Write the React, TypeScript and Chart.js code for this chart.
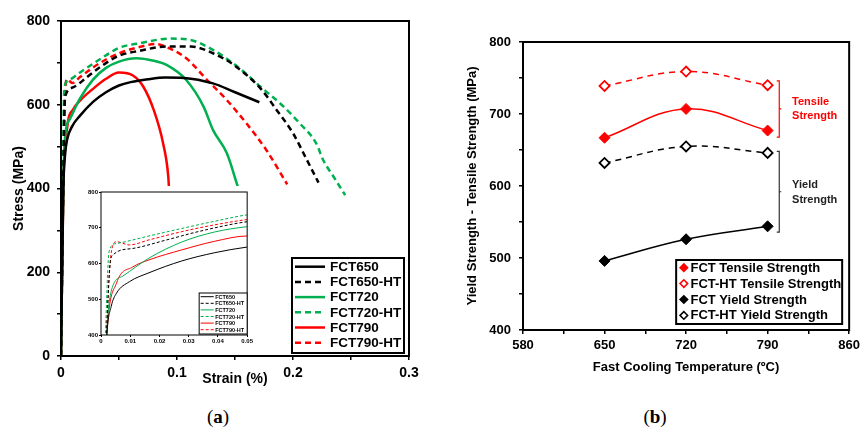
import React, { useEffect, useRef } from 'react';
import { Chart, registerables } from 'chart.js';

Chart.register(...registerables);

const FONT = 'Arial, "Liberation Sans", sans-serif';
const BLACK = '#000000';
const GREEN = '#00b050';
const RED = '#ff0000';

// ---------- Panel (a): stress-strain curves ----------
const fct650Strain = [0, 0.002, 0.0035, 0.0053, 0.0097, 0.0164, 0.0276, 0.0388, 0.05, 0.06, 0.075, 0.09, 0.106, 0.131, 0.149, 0.171];
const fct650Stress = [0, 400, 480, 517, 549, 574, 607, 630, 646, 654, 661, 665, 664, 651, 631, 606];

const fct650HtStrain = [0, 0.0019, 0.003, 0.0041, 0.0108, 0.022, 0.0332, 0.05, 0.068, 0.091, 0.112, 0.131, 0.149, 0.172, 0.186, 0.2, 0.212, 0.222];
const fct650HtStress = [0, 400, 590, 624, 642, 665, 689, 717, 729, 739, 739, 723, 695, 639, 587, 532, 468, 414];

const fct720Strain = [0, 0.0019, 0.0036, 0.0075, 0.0164, 0.0276, 0.0388, 0.05, 0.065, 0.08, 0.091, 0.108, 0.123, 0.131, 0.143, 0.153, 0.157];
const fct720Stress = [0, 400, 526, 565, 615, 660, 688, 703, 711, 705, 695, 659, 595, 540, 484, 400, 370];

const fct720HtStrain = [0, 0.0015, 0.0028, 0.0053, 0.0164, 0.0276, 0.0388, 0.05, 0.068, 0.094, 0.111, 0.131, 0.154, 0.172, 0.189, 0.206, 0.22, 0.226, 0.235, 0.245];
const fct720HtStress = [0, 400, 635, 656, 677, 698, 718, 736, 747, 758, 755, 731, 687, 643, 603, 555, 508, 468, 428, 384];

const fct790Strain = [0, 0.002, 0.0053, 0.0108, 0.0164, 0.0276, 0.0388, 0.05, 0.062, 0.071, 0.08, 0.088, 0.0925, 0.0932];
const fct790Stress = [0, 400, 545, 590, 610, 638, 662, 677, 670, 643, 587, 508, 428, 395];

const fct790HtStrain = [0, 0.0018, 0.0035, 0.0053, 0.0097, 0.0164, 0.0276, 0.0388, 0.05, 0.065, 0.082, 0.094, 0.108, 0.126, 0.143, 0.16, 0.177, 0.195];
const fct790HtStress = [0, 400, 630, 661, 652, 666, 689, 708, 723, 736, 745, 734, 711, 659, 611, 555, 492, 410];

const seriesA = [
  { label: 'FCT650', strain: fct650Strain, stress: fct650Stress, color: BLACK, dashed: false },
  { label: 'FCT650-HT', strain: fct650HtStrain, stress: fct650HtStress, color: BLACK, dashed: true },
  { label: 'FCT720', strain: fct720Strain, stress: fct720Stress, color: GREEN, dashed: false },
  { label: 'FCT720-HT', strain: fct720HtStrain, stress: fct720HtStress, color: GREEN, dashed: true },
  { label: 'FCT790', strain: fct790Strain, stress: fct790Stress, color: RED, dashed: false },
  { label: 'FCT790-HT', strain: fct790HtStrain, stress: fct790HtStress, color: RED, dashed: true },
];

// ---------- Panel (b): strength vs fast cooling temperature ----------
const temps = [650, 720, 790];
const fctTensile = [667, 707, 677];
const fctHtTensile = [739, 759, 740];
const fctYield = [496, 526, 544];
const fctHtYield = [632, 655, 646];

const bracketsB = [
  { x: 800, top: 746, bottom: 668, color: RED },
  { x: 800, top: 648, bottom: 536, color: '#333333' },
];
const notesB = [
  { x: 811, y: 717, text: 'Tensile', color: RED },
  { x: 811, y: 697, text: 'Strength', color: RED },
  { x: 811, y: 601, text: 'Yield', color: '#222222' },
  { x: 811, y: 580, text: 'Strength', color: '#222222' },
];

// ---------- plugins ----------
function framePlugin(id: string, width: number) {
  return {
    id,
    afterDatasetsDraw(chart: any) {
      const { ctx, chartArea: a } = chart;
      ctx.save();
      ctx.strokeStyle = '#000';
      ctx.lineWidth = width;
      ctx.setLineDash([]);
      ctx.strokeRect(a.left, a.top, a.right - a.left, a.bottom - a.top);
      ctx.restore();
    },
  };
}

type LegendCfg = {
  right: number; bottom: number; width: number; height: number;
  firstRow: number; rowH: number; sampleX: number; sampleLen: number; textX: number;
  font: string; lineWidth: number; dash: number[]; kind: 'line' | 'marker'; markerR?: number; borderW: number;
};

function legendPlugin(id: string, cfg: LegendCfg) {
  return {
    id,
    afterDatasetsDraw(chart: any) {
      const { ctx, chartArea: a } = chart;
      const x0 = a.right - cfg.right - cfg.width;
      const y0 = a.bottom - cfg.bottom - cfg.height;
      ctx.save();
      ctx.fillStyle = '#fff';
      ctx.fillRect(x0, y0, cfg.width, cfg.height);
      ctx.strokeStyle = '#000';
      ctx.lineWidth = cfg.borderW;
      ctx.setLineDash([]);
      ctx.strokeRect(x0, y0, cfg.width, cfg.height);
      chart.data.datasets.forEach((ds: any, i: number) => {
        const cy = y0 + cfg.firstRow + i * cfg.rowH;
        if (cfg.kind === 'line') {
          ctx.beginPath();
          ctx.strokeStyle = ds.borderColor;
          ctx.lineWidth = cfg.lineWidth;
          ctx.setLineDash(ds.borderDash && ds.borderDash.length ? cfg.dash : []);
          ctx.moveTo(x0 + cfg.sampleX, cy);
          ctx.lineTo(x0 + cfg.sampleX + cfg.sampleLen, cy);
          ctx.stroke();
        } else {
          const r = cfg.markerR || 3;
          const mx = x0 + cfg.sampleX;
          ctx.beginPath();
          ctx.setLineDash([]);
          ctx.moveTo(mx - r, cy);
          ctx.lineTo(mx, cy - r);
          ctx.lineTo(mx + r, cy);
          ctx.lineTo(mx, cy + r);
          ctx.closePath();
          ctx.fillStyle = ds.pointBackgroundColor;
          ctx.fill();
          ctx.strokeStyle = ds.pointBorderColor;
          ctx.lineWidth = cfg.lineWidth;
          ctx.stroke();
        }
        ctx.setLineDash([]);
        ctx.fillStyle = '#000';
        ctx.font = cfg.font;
        ctx.textBaseline = 'middle';
        ctx.textAlign = 'left';
        ctx.fillText(ds.label, x0 + cfg.textX, cy + 0.5);
      });
      ctx.restore();
    },
  };
}

const annotationPluginB = {
  id: 'bracketsB',
  afterDatasetsDraw(chart: any) {
    const { ctx } = chart;
    const xs = chart.scales.x;
    const ys = chart.scales.y;
    ctx.save();
    ctx.setLineDash([]);
    bracketsB.forEach((b) => {
      const px = xs.getPixelForValue(b.x);
      const ty = ys.getPixelForValue(b.top);
      const by = ys.getPixelForValue(b.bottom);
      const my = (ty + by) / 2;
      ctx.strokeStyle = b.color;
      ctx.lineWidth = 1.2;
      ctx.beginPath();
      ctx.moveTo(px - 2.5, ty);
      ctx.lineTo(px, ty);
      ctx.lineTo(px, by);
      ctx.lineTo(px - 2.5, by);
      ctx.moveTo(px, my);
      ctx.lineTo(px + 2, my);
      ctx.stroke();
    });
    ctx.font = 'bold 11px ' + FONT;
    ctx.textBaseline = 'middle';
    ctx.textAlign = 'left';
    notesB.forEach((n) => {
      ctx.fillStyle = n.color;
      ctx.fillText(n.text, xs.getPixelForValue(n.x), ys.getPixelForValue(n.y));
    });
    ctx.restore();
  },
};

function curveDatasets(width: number, dash: number[]) {
  return seriesA.map((s) => ({
    label: s.label,
    data: s.strain.map((x, i) => ({ x, y: s.stress[i] })),
    borderColor: s.color,
    backgroundColor: s.color,
    borderWidth: width,
    borderDash: s.dashed ? dash : [],
    pointRadius: 0,
    fill: false,
    cubicInterpolationMode: 'monotone' as const,
  }));
}

function tickGrid(len: number, w: number) {
  return { display: true, drawOnChartArea: false, drawTicks: true, tickLength: len, color: '#000', lineWidth: w };
}

export default function App() {
  const mainRef = useRef<HTMLCanvasElement>(null);
  const insetRef = useRef<HTMLCanvasElement>(null);
  const rightRef = useRef<HTMLCanvasElement>(null);

  useEffect(() => {
    document.body.style.margin = '0';
    const charts: Chart[] = [];

    // ---- main panel (a)
    charts.push(
      new Chart(mainRef.current!, {
        type: 'line',
        data: { datasets: curveDatasets(2.5, [6, 4]) as any },
        options: {
          animation: false,
          responsive: false,
          devicePixelRatio: 1,
          layout: { padding: { top: 21, right: 21, left: 0, bottom: 0 } },
          plugins: { legend: { display: false }, tooltip: { enabled: false } },
          scales: {
            x: {
              type: 'linear', min: 0, max: 0.3,
              afterFit: (s: any) => { s.height = 44; },
              border: { display: false },
              grid: tickGrid(4, 1.5),
              ticks: {
                stepSize: 0.05, padding: 5, color: '#000', maxRotation: 0, autoSkip: false,
                font: { family: FONT, size: 14, weight: 'bold' },
                callback: (v: any) => {
                  const t = Number(v) * 10;
                  return Math.abs(t - Math.round(t)) < 1e-6 ? String(Math.round(t) / 10) : '';
                },
              },
              title: { display: true, text: 'Strain (%)', color: '#000', font: { family: FONT, size: 14, weight: 'bold' }, padding: { top: 0, bottom: 12 } },
            },
            y: {
              type: 'linear', min: 0, max: 800,
              afterFit: (s: any) => { s.width = 61; },
              border: { display: false },
              grid: tickGrid(4, 1.5),
              ticks: {
                stepSize: 100, padding: 7, color: '#000', autoSkip: false,
                font: { family: FONT, size: 14, weight: 'bold' },
                callback: (v: any) => (Number(v) % 200 === 0 ? String(v) : ''),
              },
              title: { display: true, text: 'Stress (MPa)', color: '#000', font: { family: FONT, size: 14, weight: 'bold' }, padding: { top: 11, bottom: 0 } },
            },
          },
        } as any,
        plugins: [
          framePlugin('frameA', 2),
          legendPlugin('legendA', {
            right: 5, bottom: 3, width: 112, height: 95, firstRow: 8.7, rowH: 15.2,
            sampleX: 3, sampleLen: 30, textX: 38, font: 'bold 13.5px ' + FONT,
            lineWidth: 2.5, dash: [6, 4], kind: 'line', borderW: 2,
          }),
        ],
      })
    );

    // ---- inset of panel (a)
    charts.push(
      new Chart(insetRef.current!, {
        type: 'line',
        data: { datasets: curveDatasets(1, [3, 2]) as any },
        options: {
          animation: false,
          responsive: false,
          devicePixelRatio: 1,
          layout: { padding: { top: 6, right: 4, left: 0, bottom: 0 } },
          plugins: { legend: { display: false }, tooltip: { enabled: false } },
          scales: {
            x: {
              type: 'linear', min: 0, max: 0.05,
              afterFit: (s: any) => { s.height = 13; },
              border: { display: false },
              grid: tickGrid(2, 1),
              ticks: {
                stepSize: 0.01, padding: 1, color: '#000', maxRotation: 0, autoSkip: false,
                font: { family: FONT, size: 6, weight: 'bold' },
                callback: (v: any) => (Number(v) === 0 ? '0' : Number(v).toFixed(2)),
              },
            },
            y: {
              type: 'linear', min: 400, max: 800,
              afterFit: (s: any) => { s.width = 19; },
              border: { display: false },
              grid: tickGrid(2, 1),
              ticks: {
                stepSize: 100, padding: 1, color: '#000', autoSkip: false,
                font: { family: FONT, size: 6, weight: 'bold' },
              },
            },
          },
        } as any,
        plugins: [
          framePlugin('frameInset', 1),
          legendPlugin('legendInset', {
            right: 0, bottom: 1, width: 48, height: 41, firstRow: 3.7, rowH: 6.6,
            sampleX: 1.5, sampleLen: 13, textX: 16, font: 'bold 5.5px ' + FONT,
            lineWidth: 1, dash: [3, 2], kind: 'line', borderW: 1,
          }),
        ],
      })
    );

    // ---- panel (b)
    const mk = (label: string, vals: number[], color: string, filled: boolean, dashed: boolean) => ({
      label,
      data: temps.map((t, i) => ({ x: t, y: vals[i] })),
      borderColor: color,
      borderWidth: 1.5,
      borderDash: dashed ? [6, 5] : [],
      tension: 0.4,
      pointStyle: 'rectRot',
      pointRadius: filled ? 5.5 : 5,
      pointBorderWidth: filled ? 1 : 1.8,
      pointBackgroundColor: filled ? color : '#ffffff',
      pointBorderColor: color,
      fill: false,
    });

    charts.push(
      new Chart(rightRef.current!, {
        type: 'line',
        data: {
          datasets: [
            mk('FCT Tensile Strength', fctTensile, RED, true, false),
            mk('FCT-HT Tensile Strength', fctHtTensile, RED, false, true),
            mk('FCT Yield Strength', fctYield, BLACK, true, false),
            mk('FCT-HT Yield Strength', fctHtYield, BLACK, false, true),
          ] as any,
        },
        options: {
          animation: false,
          responsive: false,
          devicePixelRatio: 1,
          layout: { padding: { top: 42, right: 12, left: 0, bottom: 0 } },
          plugins: { legend: { display: false }, tooltip: { enabled: false } },
          scales: {
            x: {
              type: 'linear', min: 580, max: 860,
              afterFit: (s: any) => { s.height = 70; },
              border: { display: false },
              grid: tickGrid(4, 1.5),
              ticks: {
                stepSize: 35, padding: 4, color: '#000', maxRotation: 0, autoSkip: false,
                font: { family: FONT, size: 13, weight: 'bold' },
                callback: (v: any) => ((Number(v) - 580) % 70 === 0 ? String(v) : ''),
              },
              title: { display: true, text: 'Fast Cooling Temperature (ºC)', color: '#000', font: { family: FONT, size: 13, weight: 'bold' }, padding: { top: 0, bottom: 25 } },
            },
            y: {
              type: 'linear', min: 400, max: 800,
              afterFit: (s: any) => { s.width = 83; },
              border: { display: false },
              grid: tickGrid(4, 1.5),
              ticks: {
                stepSize: 50, padding: 8, color: '#000', autoSkip: false,
                font: { family: FONT, size: 13, weight: 'bold' },
                callback: (v: any) => (Number(v) % 100 === 0 ? String(v) : ''),
              },
              title: { display: true, text: 'Yield Strength - Tensile Strength (MPa)', color: '#000', font: { family: FONT, size: 13, weight: 'bold' }, padding: { top: 25, bottom: 0 } },
            },
          },
        } as any,
        plugins: [
          framePlugin('frameB', 2),
          annotationPluginB,
          legendPlugin('legendB', {
            right: 7, bottom: 6, width: 166, height: 64, firstRow: 7.7, rowH: 15.9,
            sampleX: 7.7, sampleLen: 0, textX: 14.3, font: 'bold 13px ' + FONT,
            lineWidth: 1.5, dash: [], kind: 'marker', markerR: 3.8, borderW: 2,
          }),
        ],
      })
    );

    return () => charts.forEach((c) => c.destroy());
  }, []);

  const labelStyle: React.CSSProperties = {
    position: 'absolute', top: 405, width: 80, textAlign: 'center',
    fontFamily: '"Liberation Serif", "DejaVu Serif", serif', fontSize: 19, lineHeight: '24px', color: '#000',
  };

  return (
    <div style={{ position: 'absolute', left: 0, top: 0, width: 864, height: 430, background: '#fff', overflow: 'hidden' }}>
      <canvas ref={mainRef} width={430} height={400} style={{ position: 'absolute', left: 0, top: 0 }} />
      <canvas ref={insetRef} width={172} height={162} style={{ position: 'absolute', left: 82, top: 186, background: '#fff' }} />
      <canvas ref={rightRef} width={424} height={400} style={{ position: 'absolute', left: 440, top: 0 }} />
      <div style={{ ...labelStyle, left: 178 }}>(<b>a</b>)</div>
      <div style={{ ...labelStyle, left: 615 }}>(<b>b</b>)</div>
    </div>
  );
}
